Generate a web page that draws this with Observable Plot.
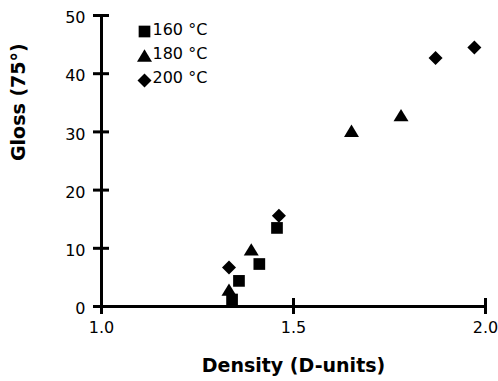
<!DOCTYPE html>
<html><head><meta charset="utf-8">
<script src="https://cdn.jsdelivr.net/npm/d3@7"></script>
<script src="https://cdn.jsdelivr.net/npm/@observablehq/plot@0.6"></script>
<style>html,body{margin:0;padding:0;background:#fff;overflow:hidden}</style>
</head><body><div id="chart"></div>
<script>
// Data
const seriesNames = ["160 °C", "180 °C", "200 °C"];
const density160 = [1.34, 1.358, 1.411, 1.457];
const gloss160 = [1.2, 4.4, 7.3, 13.5];
const density180 = [1.332, 1.39, 1.651, 1.78];
const gloss180 = [2.9, 9.8, 30.2, 32.9];
const density200 = [1.332, 1.462, 1.87, 1.971];
const gloss200 = [6.7, 15.6, 42.7, 44.5];
const xTicks = [1.0, 1.5, 2.0];
const yTicks = [0, 10, 20, 30, 40, 50];
const xLabel = "Density (D-units)";
const yLabel = "Gloss (75°)";

// Custom marker shapes (size = pi r^2 from Plot)
const squareSym = {draw(ctx, size) { const s = Math.sqrt(size) / 2; ctx.rect(-s, -s, 2 * s, 2 * s); }};
const triangleSym = {draw(ctx, size) {
  const s = Math.sqrt(size), w = 1.28 * s / 2, h = 1.05 * s / 2;
  ctx.moveTo(0, -h); ctx.lineTo(w, h); ctx.lineTo(-w, h); ctx.closePath(); }};
const diamondSym = {draw(ctx, size) {
  const d = 0.6 * Math.sqrt(size);
  ctx.moveTo(0, -d); ctx.lineTo(d, 0); ctx.lineTo(0, d); ctx.lineTo(-d, 0); ctx.closePath(); }};

const symbols = [squareSym, triangleSym, diamondSym];
const series = [
  density160.map((x, i) => ({x, y: gloss160[i]})),
  density180.map((x, i) => ({x, y: gloss180[i]})),
  density200.map((x, i) => ({x, y: gloss200[i]}))
];
const R = 6.6;
const legendSymDy = [16, 40, 65];
const legendTextDy = [14.5, 38.3, 62];

const marks = [
  // axis lines
  Plot.ruleX([xTicks[0]], {y1: yTicks[0], y2: yTicks[yTicks.length - 1], strokeWidth: 3, stroke: "black"}),
  Plot.ruleY([yTicks[0]], {x1: xTicks[0], x2: xTicks[xTicks.length - 1], strokeWidth: 3, stroke: "black"}),
  // crossing ticks
  Plot.ruleX(xTicks, {x: d => d, y1: yTicks[0], y2: yTicks[0], insetTop: -8, insetBottom: -8, strokeWidth: 3, stroke: "black"}),
  Plot.ruleY(yTicks, {y: d => d, x1: xTicks[0], x2: xTicks[0], insetLeft: -8, insetRight: -8, strokeWidth: 3, stroke: "black"}),
  // tick labels
  Plot.text(xTicks, {x: d => d, y: yTicks[0], text: d => d3.format(".1f")(d), dy: 21, lineAnchor: "middle", fontSize: 16, fill: "black"}),
  Plot.text(yTicks, {x: xTicks[0], y: d => d, text: d => String(d), dx: -16, dy: 2.5, lineAnchor: "middle", textAnchor: "end", fontSize: 16, fill: "black"}),
  // axis titles
  Plot.text([xLabel], {text: d => d, frameAnchor: "bottom", dy: 59, lineAnchor: "middle", fontSize: 19, fontWeight: "bold", fill: "black"}),
  Plot.text([yLabel], {text: d => d, frameAnchor: "left", dx: -83, rotate: -90, lineAnchor: "middle", fontSize: 19, fontWeight: "bold", fill: "black"}),
];
series.forEach((data, i) => {
  marks.push(Plot.dot(data, {x: "x", y: "y", symbol: () => symbols[i], r: R, fill: "black", stroke: "none"}));
  marks.push(Plot.dot([seriesNames[i]], {frameAnchor: "top-left", dx: 43, dy: legendSymDy[i], symbol: () => symbols[i], r: R, fill: "black", stroke: "none"}));
  marks.push(Plot.text([seriesNames[i]], {text: d => d, frameAnchor: "top-left", dx: 51, dy: legendTextDy[i], lineAnchor: "middle", textAnchor: "start", fontSize: 16, fill: "black"}));
});

const chart = Plot.plot({
  width: 498,
  height: 381,
  marginLeft: 101,
  marginRight: 13,
  marginTop: 15,
  marginBottom: 75,
  x: {domain: [1, 2], axis: null},
  y: {domain: [0, 50], axis: null},
  symbol: {type: "identity"},
  style: {fontFamily: "'DejaVu Sans', sans-serif", fontSize: "16px", background: "white", color: "black", overflow: "visible"},
  marks
});
document.getElementById("chart").appendChild(chart);
</script>
</body></html>
